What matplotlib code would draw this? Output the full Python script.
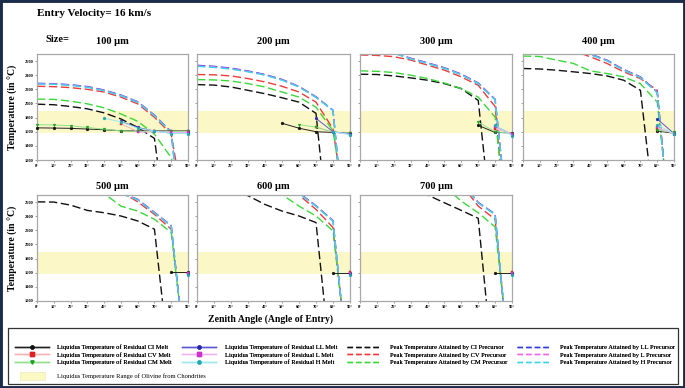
import matplotlib
matplotlib.use('Agg')
import matplotlib.pyplot as plt
from matplotlib.lines import Line2D
from matplotlib.patches import Patch, Rectangle

plt.rcParams['font.family'] = ['Liberation Serif', 'DejaVu Serif']

# ---------------- data ----------------
SERIES = ['CI', 'CV', 'CM', 'LL', 'L', 'H']
ANG = [0, 10, 20, 30, 40, 50, 60, 70, 80, 90]
xtick_vals = [0, 10, 20, 30, 40, 50, 60, 70, 80, 90]
xtick_labels = ['0°', '10°', '20°', '30°', '40°', '50°', '60°', '70°', '80°', '90°']
ytick_vals = [1200, 1400, 1600, 1800, 2000, 2200, 2400, 2600]
band_low, band_high = 1580, 1900
sizes = ['100 µm', '200 µm', '300 µm', '400 µm', '500 µm', '600 µm', '700 µm']

p100_peak = {
    'CI': ([0, 10, 20, 30, 40, 50, 60, 70, 72], [1990, 1982, 1957, 1924, 1867, 1781, 1662, 1505, 1150]),
    'CV': ([0, 10, 20, 30, 40, 50, 60, 70, 80, 83], [2243, 2238, 2224, 2200, 2162, 2090, 1995, 1805, 1567, 1150]),
    'CM': ([0, 10, 20, 30, 40, 50, 60, 70, 80, 81], [2062, 2058, 2033, 1995, 1938, 1852, 1748, 1567, 1233, 1150]),
    'LL': ([0, 10, 20, 30, 40, 50, 60, 70, 80, 82], [2285, 2280, 2265, 2240, 2190, 2120, 2025, 1835, 1600, 1150]),
    'L':  ([0, 10, 20, 30, 40, 50, 60, 70, 80, 82], [2280, 2275, 2260, 2234, 2185, 2115, 2020, 1830, 1595, 1150]),
    'H':  ([0, 10, 20, 30, 40, 50, 60, 70, 80, 82], [2275, 2270, 2255, 2228, 2180, 2110, 2015, 1825, 1590, 1150]),
}
p100_liq = {
    'CI': (ANG, [1655, 1652, 1648, 1638, 1628, 1614, 1612, 1612, 1612, 1612]),
    'CV': ([50, 60, 70, 80, 90], [1710, 1605, 1605, 1605, 1605]),
    'CM': (ANG, [1700, 1695, 1685, 1660, 1635, 1612, 1605, 1605, 1605, 1605]),
    'LL': ([50, 60, 70, 80, 90], [1745, 1660, 1610, 1580, 1580]),
    'L':  ([60, 70, 80, 90], [1590, 1600, 1590, 1590]),
    'H':  ([40, 50, 60, 70, 80, 90], [1790, 1740, 1650, 1610, 1575, 1575]),
}

p200_peak = {
    'CI': ([0, 10, 20, 30, 40, 50, 60, 70, 73], [2267, 2260, 2233, 2186, 2138, 2081, 2019, 1860, 1150]),
    'CV': ([0, 10, 20, 30, 40, 50, 60, 70, 80, 83], [2410, 2405, 2390, 2352, 2305, 2243, 2162, 2019, 1640, 1150]),
    'CM': ([0, 10, 20, 30, 40, 50, 60, 70, 80, 83], [2338, 2333, 2318, 2281, 2233, 2162, 2090, 1948, 1614, 1150]),
    'LL': ([0, 10, 20, 30, 40, 50, 60, 70, 80, 83], [2540, 2525, 2500, 2460, 2410, 2340, 2240, 2095, 1905, 1150]),
    'L':  ([0, 10, 20, 30, 40, 50, 60, 70, 80, 83], [2532, 2518, 2493, 2454, 2405, 2335, 2236, 2090, 1902, 1150]),
    'H':  ([0, 10, 20, 30, 40, 50, 60, 70, 80, 83], [2525, 2510, 2486, 2448, 2400, 2329, 2233, 2085, 1900, 1150]),
}
p200_liq = {
    'CI': ([50, 60, 70, 80, 90], [1720, 1650, 1600, 1590, 1585]),
    'CV': ([70, 80, 90], [1665, 1595, 1580]),
    'CM': ([60, 70, 80, 90], [1700, 1665, 1595, 1580]),
    'LL': ([70, 80, 90], [1790, 1600, 1570]),
    'L':  ([80, 90], [1595, 1560]),
    'H':  ([80, 90], [1600, 1560]),
}

p300_peak = {
    'CI': ([0, 10, 20, 30, 40, 50, 60, 70, 74], [2414, 2410, 2390, 2362, 2329, 2281, 2210, 2043, 1150]),
    'CV': ([0, 10, 20, 30, 40, 50, 60, 70, 80, 83], [2686, 2680, 2662, 2614, 2543, 2471, 2376, 2257, 1957, 1150]),
    'CM': ([0, 10, 20, 30, 40, 50, 60, 70, 80, 83], [2462, 2455, 2438, 2400, 2352, 2290, 2210, 2090, 1805, 1150]),
    'LL': ([0, 10, 20, 30, 40, 50, 60, 70, 80, 84], [2800, 2765, 2720, 2640, 2575, 2505, 2415, 2290, 2060, 1150]),
    'L':  ([0, 10, 20, 30, 40, 50, 60, 70, 80, 84], [2795, 2760, 2715, 2635, 2570, 2500, 2410, 2285, 2055, 1150]),
    'H':  ([0, 10, 20, 30, 40, 50, 60, 70, 80, 84], [2790, 2755, 2710, 2630, 2565, 2495, 2405, 2280, 2050, 1150]),
}
p300_liq = {
    'CI': ([70, 80, 90], [1690, 1590, 1585]),
    'CV': ([80, 90], [1640, 1575]),
    'CM': ([70, 80, 90], [1735, 1600, 1575]),
    'LL': ([80, 90], [1680, 1560]),
    'L':  ([80, 90], [1660, 1570]),
    'H':  ([80, 90], [1690, 1545]),
}

p400_peak = {
    'CI': ([0, 10, 20, 30, 40, 50, 60, 70, 75], [2495, 2488, 2471, 2448, 2424, 2390, 2329, 2186, 1150]),
    'CV': ([0, 10, 20, 30, 40, 50, 60, 70, 80, 84], [2880, 2850, 2810, 2745, 2662, 2567, 2448, 2352, 2186, 1150]),
    'CM': ([0, 10, 20, 30, 40, 50, 60, 70, 80, 84], [2671, 2665, 2614, 2567, 2462, 2424, 2376, 2281, 2019, 1150]),
    'LL': ([0, 10, 20, 30, 40, 50, 60, 70, 80, 84], [2920, 2890, 2850, 2780, 2700, 2614, 2481, 2376, 2162, 1150]),
    'L':  ([0, 10, 20, 30, 40, 50, 60, 70, 80, 84], [2915, 2885, 2845, 2775, 2695, 2609, 2476, 2371, 2157, 1150]),
    'H':  ([0, 10, 20, 30, 40, 50, 60, 70, 80, 84], [2910, 2880, 2840, 2770, 2690, 2604, 2471, 2366, 2152, 1150]),
}
p400_liq = {
    'CI': ([80, 90], [1610, 1580]),
    'CV': ([80, 90], [1640, 1580]),
    'CM': ([80, 90], [1620, 1590]),
    'LL': ([80, 90], [1780, 1575]),
    'L':  ([80, 90], [1660, 1575]),
    'H':  ([80, 90], [1700, 1570]),
}

p500_peak = {
    'CI': ([0, 10, 20, 30, 40, 50, 60, 70, 75], [2603, 2600, 2557, 2482, 2449, 2403, 2333, 2216, 1150]),
    'CV': ([30, 40, 50, 60, 70, 80, 85], [2950, 2850, 2750, 2603, 2426, 2216, 1150]),
    'CM': ([30, 40, 50, 60, 70, 80, 85], [2820, 2720, 2543, 2473, 2356, 2170, 1150]),
    'LL': ([30, 40, 50, 60, 70, 80, 85], [2900, 2800, 2730, 2640, 2455, 2268, 1150]),
    'L':  ([30, 40, 50, 60, 70, 80, 85], [2895, 2795, 2725, 2636, 2450, 2264, 1150]),
    'H':  ([30, 40, 50, 60, 70, 80, 85], [2890, 2790, 2720, 2632, 2445, 2260, 1150]),
}
p500_liq = {
    'CI': ([80, 90], [1610, 1610]),
    'CV': ([90], [1600]),
    'CM': ([90], [1595]),
    'LL': ([90], [1585]),
    'L':  ([90], [1590]),
    'H':  ([90], [1570]),
}

p600_peak = {
    'CI': ([20, 30, 40, 50, 60, 70, 75], [2760, 2690, 2566, 2473, 2403, 2310, 1150]),
    'CV': ([50, 60, 70, 80, 85], [2830, 2700, 2496, 2240, 1150]),
    'CM': ([40, 50, 60, 70, 80, 85], [2800, 2705, 2543, 2403, 2193, 1150]),
    'LL': ([50, 60, 70, 80, 85], [2880, 2730, 2548, 2338, 1150]),
    'L':  ([50, 60, 70, 80, 85], [2875, 2725, 2544, 2334, 1150]),
    'H':  ([50, 60, 70, 80, 85], [2870, 2720, 2540, 2330, 1150]),
}
p600_liq = {
    'CI': ([80, 90], [1600, 1600]),
    'CV': ([90], [1605]),
    'CM': ([90], [1595]),
    'LL': ([90], [1585]),
    'L':  ([90], [1590]),
    'H':  ([90], [1570]),
}

p700_peak = {
    'CI': ([30, 40, 50, 60, 70, 75], [2800, 2700, 2590, 2482, 2370, 1150]),
    'CV': ([60, 70, 80, 85], [2850, 2543, 2356, 1150]),
    'CM': ([50, 60, 70, 80, 85], [2820, 2613, 2449, 2249, 1150]),
    'LL': ([60, 70, 80, 85], [2880, 2595, 2430, 1150]),
    'L':  ([60, 70, 80, 85], [2875, 2590, 2426, 1150]),
    'H':  ([60, 70, 80, 85], [2870, 2586, 2422, 1150]),
}
p700_liq = {
    'CI': ([80, 90], [1600, 1600]),
    'CV': ([90], [1605]),
    'CM': ([90], [1595]),
    'LL': ([90], [1585]),
    'L':  ([90], [1590]),
    'H':  ([90], [1570]),
}

# ---------------- styles ----------------
peak_color = {'CI': '#111111', 'CV': '#f03a3a', 'CM': '#3ad93a',
              'LL': '#2a3ae6', 'L': '#ee66ee', 'H': '#38d6e6'}
liq_line = {'CI': '#222222', 'CV': '#f2b4b4', 'CM': '#8fe08f',
            'LL': '#5a5ad0', 'L': '#f0b4f0', 'H': '#9fe8ee'}
liq_mark = {'CI': '#111111', 'CV': '#e02020', 'CM': '#22a022',
            'LL': '#2626b0', 'L': '#cc33cc', 'H': '#20a8b0'}
liq_marker = {'CI': 'o', 'CV': 's', 'CM': 'v', 'LL': 'o', 'L': 's', 'H': 'o'}

W, H = 685, 388
fig = plt.figure(figsize=(W / 100, H / 100), dpi=100)
fig.patch.set_facecolor('white')

def ax_rect(x0, x1, y0, y1):
    return [x0 / W, 1 - y1 / H, (x1 - x0) / W, (y1 - y0) / H]

cols = [(37, 188), (197, 350), (360, 512), (523, 674)]
top_row = (54, 160)
bot_row = (195, 301)
positions = [
    (cols[0], top_row), (cols[1], top_row), (cols[2], top_row), (cols[3], top_row),
    (cols[0], bot_row), (cols[1], bot_row), (cols[2], bot_row),
]
panels = [
    (p100_peak, p100_liq), (p200_peak, p200_liq), (p300_peak, p300_liq),
    (p400_peak, p400_liq), (p500_peak, p500_liq), (p600_peak, p600_liq),
    (p700_peak, p700_liq),
]

for i, ((cx, ry), (peak, liq)) in enumerate(zip(positions, panels)):
    ax = fig.add_axes(ax_rect(cx[0], cx[1], ry[0], ry[1]))
    ax.axhspan(band_low, band_high, color='#fbf7c6', zorder=0, lw=0)
    for s in SERIES:
        xs, ys = liq[s]
        ax.plot(xs, ys, color=liq_line[s], lw=0.7, marker=liq_marker[s],
                markersize=2.0, markerfacecolor=liq_mark[s],
                markeredgecolor=liq_mark[s], markeredgewidth=0.3, zorder=3,
                clip_on=False)
    for s in SERIES:
        xs, ys = peak[s]
        ax.plot(xs, ys, color=peak_color[s], lw=1.0, dashes=(6, 2.6), zorder=2)
    ax.set_xlim(0, 90)
    ax.set_ylim(1200, 2700)
    ax.set_xticks(xtick_vals)
    ax.set_xticklabels(xtick_labels, fontsize=3.2, fontweight='bold')
    ax.set_yticks(ytick_vals)
    if cx == cols[0]:
        ax.set_yticklabels([str(v) for v in ytick_vals], fontsize=3.2, fontweight='bold')
    else:
        ax.set_yticklabels([])
    ax.tick_params(length=1.6, width=0.5, color='#777777', pad=1.2)
    for sp in ax.spines.values():
        sp.set_color('#a8a8a8')
        sp.set_linewidth(0.9)
    ax.set_title(sizes[i], fontsize=7.5, fontweight='bold', pad=7 if ry == top_row else 4)

# ---------------- figure texts ----------------
fig.text(37 / W, 1 - 14 / H, 'Entry Velocity= 16 km/s', fontsize=8, fontweight='bold',
         ha='left', va='center')
fig.text(45 / W, 1 - 40 / H, 'Size=', fontsize=7.5, fontweight='bold', ha='left', va='center')
fig.text(13 / W, 1 - 107 / H, 'Temperature (in °C)', fontsize=7, fontweight='bold',
         rotation=90, ha='center', va='center')
fig.text(13 / W, 1 - 248 / H, 'Temperature (in °C)', fontsize=7, fontweight='bold',
         rotation=90, ha='center', va='center')
fig.text(271 / W, 1 - 319 / H, 'Zenith Angle (Angle of Entry)', fontsize=7,
         fontweight='bold', ha='center', va='center')

# ---------------- legend ----------------
handles, labels = [], []
for s in ['CI', 'CV', 'CM', 'LL', 'L', 'H']:
    handles.append(Line2D([], [], color=liq_line[s], lw=1.0, marker=liq_marker[s], markersize=2.2,
                          markerfacecolor=liq_mark[s], markeredgecolor=liq_mark[s]))
    labels.append(f'Liquidus Temperature of Residual {s} Melt')
for s in ['CI', 'CV', 'CM', 'LL', 'L', 'H']:
    handles.append(Line2D([], [], color=peak_color[s], lw=1.0, dashes=(4, 2.2)))
    labels.append(f'Peak Temperature Attained by {s} Precursor')

leg1 = fig.legend(handles, labels, ncol=4, loc='upper left',
                  bbox_to_anchor=(15 / W, 1 - 344.5 / H), frameon=False,
                  fontsize=4.7, handlelength=5.2, handletextpad=1.3,
                  columnspacing=1.55, labelspacing=0.3, borderpad=0,
                  borderaxespad=0)
leg2 = fig.legend([Patch(facecolor='#fcf8c4', edgecolor='#e8e4a8', lw=0.4)],
                  ['Liquidus Temperature Range of Olivine from Chondrites'],
                  loc='center left', bbox_to_anchor=(20 / W, 1 - 376 / H),
                  frameon=False, fontsize=4.7, handlelength=3.8, handleheight=1.3,
                  handletextpad=1.8, borderpad=0, borderaxespad=0)
fig.add_artist(leg1)

fig.patches.append(Rectangle((8 / W, 1 - 384 / H), 670 / W, 56 / H,
                             transform=fig.transFigure, fill=False,
                             edgecolor='#333333', lw=0.9))
fig.patches.append(Rectangle((0, 0), 1, 1, transform=fig.transFigure, fill=False,
                             edgecolor='#1d2b4b', lw=3.5))

fig.savefig('out.png', dpi=100)
